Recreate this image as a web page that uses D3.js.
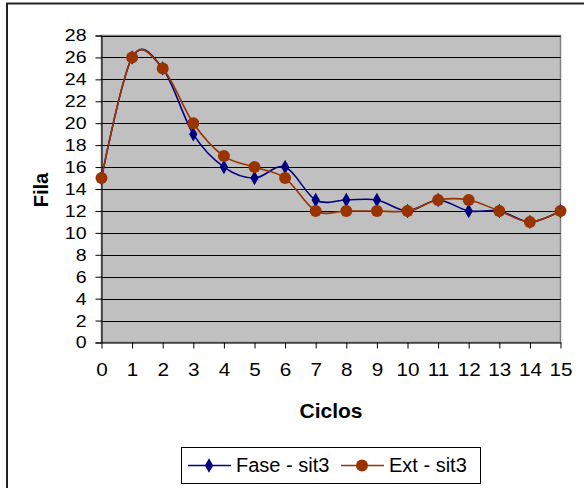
<!DOCTYPE html>
<html><head><meta charset="utf-8">
<script src="https://cdn.jsdelivr.net/npm/d3@7"></script>
<style>body{margin:0;background:#fff}svg{display:block;font-family:"Liberation Sans",Arial,sans-serif}</style>
</head><body>
<svg id="c" width="584" height="488"></svg>
<script>
const ciclos = [0,1,2,3,4,5,6,7,8,9,10,11,12,13,14,15];
const fase = [15,26,25,19,16,15,16,13,13,13,12,13,12,12,11,12];
const ext  = [15,26,25,20,17,16,15,12,12,12,12,13,13,12,11,12];
const yTicks = d3.range(0,29,2);
const seriesNames = ["Fase - sit3","Ext - sit3"];
const colors = ["#000080","#993300"];

const svg = d3.select("#c");
const L=101.5, R=560.5, T=35.5, B=342.5;
const x = d3.scaleLinear().domain([0,15]).range([L,R]);
const y = d3.scaleLinear().domain([0,28]).range([B,T]);

// outer chart border
svg.append("path").attr("d","M7,488V3.5H584").attr("fill","none").attr("stroke","#222").attr("stroke-width",2);

svg.append("rect").attr("x",L).attr("y",T).attr("width",R-L).attr("height",B-T)
  .attr("fill","#c0c0c0").attr("stroke","#808080").attr("stroke-width",1.5);

svg.append("g").selectAll("line").data(yTicks.filter(d=>d>0)).join("line")
  .attr("x1",L).attr("x2",R).attr("y1",d=>Math.round(y(d))+0.5).attr("y2",d=>Math.round(y(d))+0.5)
  .attr("stroke","#000").attr("stroke-width",1);

const sy = 1.15, sx = 1.15;
const yAxis = svg.append("g").attr("transform",`translate(${L},0)`)
  .call(d3.axisLeft(y).tickValues(yTicks).tickSize(6).tickPadding(4));
yAxis.select(".domain").attr("stroke","#000");
yAxis.selectAll("text").attr("font-size",17).attr("fill","#000")
  .attr("x",-15/sy).attr("transform",`scale(${sy},1)`);

const xAxis = svg.append("g").attr("transform",`translate(0,${B})`)
  .call(d3.axisBottom(x).tickValues(ciclos).tickSize(6).tickPadding(12).tickSizeOuter(0));
xAxis.select(".domain").attr("stroke","#000");
xAxis.selectAll("text").attr("font-size",18).attr("fill","#000")
  .attr("y",21).attr("transform",`scale(${sx},1)`);

svg.append("text").attr("x",331).attr("y",418).attr("text-anchor","middle")
  .attr("font-size",21).attr("font-weight","bold").text("Ciclos");
svg.append("text").attr("transform","translate(48,190) rotate(-90)").attr("text-anchor","middle")
  .attr("font-size",20).attr("font-weight","bold").text("Fila");

const line = d3.line().x((d,i)=>x(ciclos[i])).y(d=>y(d)).curve(d3.curveCardinal.tension(0));
const data = [fase, ext];
data.forEach((s,k)=>{
  svg.append("path").attr("d",line(s)).attr("fill","none").attr("stroke",colors[k]).attr("stroke-width",1.6);
});
// markers
svg.append("g").selectAll("path").data(fase).join("path")
  .attr("d",d3.symbol(d3.symbolDiamond,60)).attr("transform",(d,i)=>`translate(${x(ciclos[i])},${y(d)})`)
  .attr("fill",colors[0]);
svg.append("g").selectAll("circle").data(ext).join("circle")
  .attr("cx",(d,i)=>x(ciclos[i])).attr("cy",d=>y(d)).attr("r",6).attr("fill",colors[1]);

// legend
const lg = svg.append("g");
lg.append("rect").attr("x",181.5).attr("y",447.5).attr("width",299).attr("height",36)
  .attr("fill","#fff").attr("stroke","#000");
const lx=[188,341];
seriesNames.forEach((n,k)=>{
  lg.append("line").attr("x1",lx[k]).attr("x2",lx[k]+43).attr("y1",465.5).attr("y2",465.5).attr("stroke",colors[k]).attr("stroke-width",1.6);
  if(k===0) lg.append("path").attr("d",d3.symbol(d3.symbolDiamond,60)).attr("transform",`translate(${lx[k]+21},465.5)`).attr("fill",colors[k]);
  else lg.append("circle").attr("cx",lx[k]+21).attr("cy",465.5).attr("r",6).attr("fill",colors[k]);
  lg.append("text").attr("x",lx[k]+48).attr("y",472).attr("font-size",20).text(n);
});
</script>
</body></html>
